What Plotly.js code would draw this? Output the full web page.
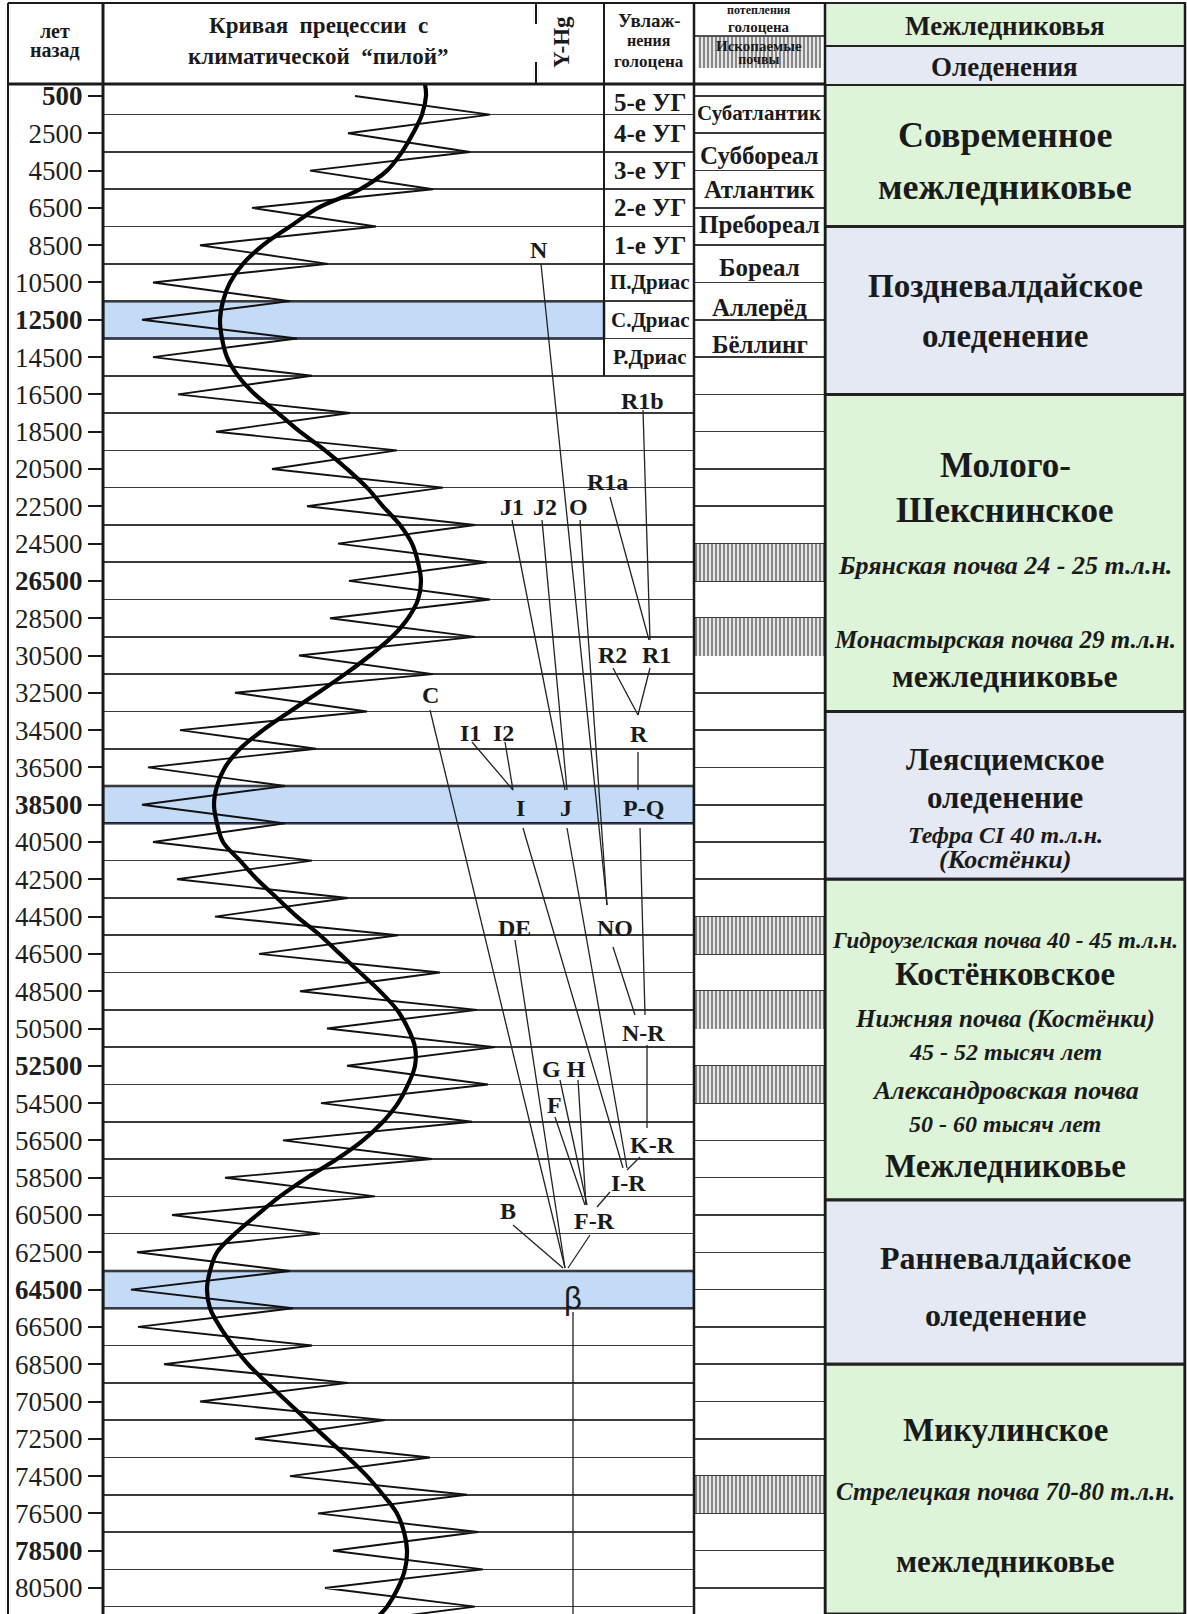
<!DOCTYPE html>
<html><head><meta charset="utf-8">
<script src="https://cdn.plot.ly/plotly-3.0.1.min.js"></script>
<style>html,body{margin:0;padding:0;background:#fff;}#chart{width:1187px;height:1614px;}</style>
</head><body><div id="chart"></div>
<script>
// ---------------- DATA ----------------
const tickYears=[500,2500,4500,6500,8500,10500,12500,14500,16500,18500,20500,22500,24500,26500,28500,30500,32500,34500,36500,38500,40500,42500,44500,46500,48500,50500,52500,54500,56500,58500,60500,62500,64500,66500,68500,70500,72500,74500,76500,78500,80500];
const boldTickYears=[500,12500,26500,38500,52500,64500,78500];
const gridYears=[1500,3500,5500,7500,9500,11500,13500,15500,17500,19500,21500,23500,25500,27500,29500,31500,33500,35500,37500,39500,41500,43500,45500,47500,49500,51500,53500,55500,57500,59500,61500,63500,65500,67500,69500,71500,73500,75500,77500,79500,81500];

// climatic "saw"
const sawYears=[500,1500,2500,3500,4500,5500,6500,7500,8500,9500,10500,11500,12500,13500,14500,15500,16500,17500,18500,19500,20500,21500,22500,23500,24500,25500,26500,27500,28500,29500,30500,31500,32500,33500,34500,35500,36500,37500,38500,39500,40500,41500,42500,43500,44500,45500,46500,47500,48500,49500,50500,51500,52500,53500,54500,55500,56500,57500,58500,59500,60500,61500,62500,63500,64500,65500,66500,67500,68500,69500,70500,71500,72500,73500,74500,75500,76500,77500,78500,79500,80500,81500,82500];
const sawValue=[355,490,348,470,310,433,252,376,200,328,153,290,142,297,153,312,178,350,216,397,272,443,307,475,338,487,349,490,330,475,299,433,235,367,180,316,148,285,142,285,153,312,177,348,215,398,259,440,300,477,327,495,347,488,321,472,283,432,225,375,172,320,137,290,131,293,138,312,164,348,200,385,255,430,290,467,318,478,333,483,325,475,330];

// precession curve
const precYears=[-143,500,1500,2500,3500,4500,5500,6500,7500,8500,9500,10500,11500,12500,13500,14500,15500,16500,17500,18500,19500,20500,21500,22500,23500,24500,25500,26500,27500,28500,29500,30500,31500,32500,33500,34500,35500,36500,37500,38500,39500,40500,41500,42500,43500,44500,45500,46500,47500,48500,49500,50500,51500,52500,53500,54500,55500,56500,57500,58500,59500,60500,61500,62500,63500,64500,65500,66500,67500,68500,69500,70500,71500,72500,73500,74500,75500,76500,77500,78500,79500,80500,81500,82300];
const precValue=[425,426,422,413,402,387,360,318,290,263,243,230,223,220,222,227,238,255,278,300,325,347,367,383,400,412,418,421,418,408,392,370,345,318,290,263,240,225,217,214,217,223,240,257,277,297,320,340,360,380,397,408,415,415,408,398,383,363,337,307,280,257,235,217,210,207,210,220,233,248,267,287,307,327,348,367,383,397,404,407,405,398,387,373];

// cold stadials (blue bands)
const coldStart=[11500,37500,63500];
const coldEnd=[13500,39500,65500];

// fossil soils
const soilStart=[24500,28500,44500,48500,52500,74500];
const soilEnd=[26500,30500,46500,50500,54500,76500];

// Holocene humidity column
const humidLabels=['5-е УГ','4-е УГ','3-е УГ','2-е УГ','1-е УГ','П.Дриас','С.Дриас','Р.Дриас'];
const humidYears=[840,2500,4500,6500,8500,10500,12500,14500];

// Holocene warming periods
const warmLabels=['Субатлантик','Суббореал','Атлантик','Пребореал','Бореал','Аллерёд','Бёллинг'];
const warmYears=[1411,3717,5540,7417,9722,11867,13851];

// Y-Hg haplogroups
const hapNames=['N','R1b','R1a','J1','J2','O','R2','R1','C','I1','I2','R','I','J','P-Q','DE','NO','N-R','G H','F','K-R','I-R','B','F-R'];
const hapX=[539,642,607,512,545,578,612,656,430,470,503,639,520,566,643,514,615,643,564,554,652,628,508,594];
const hapYears=[8757,16854,21197,22538,22538,22538,30473,30473,32618,34656,34656,34710,38677,38677,38677,45111,45111,50741,52671,54602,56746,58785,60286,60822];
const betaX=573, betaYear=65003;

// tree links: from (x, year) to (x, year)
const linkFromX=[541,580,643,610,512,542,613,650,638,472,505,430,523,567,640,613,647,640,515,560,578,555,610,513,590,573];
const linkFromYear=[9508,23235,17336,22001,23235,23235,31170,31170,35674,35138,35138,33422,39749,39749,39749,46130,51385,57390,45755,53261,53261,55245,59267,61036,61572,65701];
const linkToX=[607,607,650,649,565,567,638,638,638,513,513,565,623,627,645,635,647,627,565,587,586,585,597,563,568,573];
const linkToYear=[43878,43878,29669,29669,37712,37712,33690,33690,37712,37712,37712,63342,57980,57980,49776,49776,55835,58087,63342,59964,59964,59964,60071,63342,63342,82000];

// glacial / interglacial stages (right column)
const stageBounds=[-143,7500,16500,33500,42500,59700,68500,81894];
const stageKind=['warm','cold','warm','cold','warm','cold','warm'];
const stageText=['Современное','межледниковье','Поздневалдайское','оледенение','Молого-','Шекснинское','Брянская почва 24 - 25 т.л.н.','Монастырская почва 29 т.л.н.','межледниковье','Леясциемское','оледенение','Тефра CI 40 т.л.н.','(Костёнки)','Гидроузелская почва 40 - 45 т.л.н.','Костёнковское','Нижняя почва (Костёнки)','45 - 52 тысяч лет','Александровская почва','50 - 60 тысяч лет','Межледниковье','Ранневалдайское','оледенение','Микулинское','Стрелецкая почва 70-80 т.л.н.','межледниковье'];
const stageTextYears=[2590,5380,10690,13370,20290,22750,25650,29620,31600,36100,38100,40120,41460,45760,47580,49990,51760,53800,55620,57870,62800,65860,72030,75350,79100];
const stageTextKind=['t','t','t','t','t','t','n','n','t','t','t','n','n','n','t','n','n','n','n','t','t','t','t','n','t'];

// ---------------- LAYOUT ----------------
const W=1187,H=1614;
const yTop=-143, yBot=81894;
const PX=x=>x/W, PY=y=>1-y/H;
const SERIF='Liberation Serif, Times New Roman, serif';
const INK='#1a1a1a';
const GREEN='#def4d8', BLUEGRAY='#e4e9f3', BAND='#c4dbf7';
// font sizes of the right-column lines (same order as stageText)
const stageFontSize=[36,36,33,33,35,35,26,25,32,31,31,24,26,23,33,25,24,26,24,33,32,32,33,25,31];

const yDom=[0,1-84/H];
const traces=[];

const hatch={color:'#d9d9d9',line:{width:0},pattern:{shape:'|',fgcolor:'#707070',bgcolor:'#e6e6e6',size:4,solidity:0.4}};
// soils (hatched bars)
traces.push({type:'bar',orientation:'h',xaxis:'x2',yaxis:'y2',
  y:soilStart.map((s,i)=>(s+soilEnd[i])/2), width:soilStart.map((s,i)=>soilEnd[i]-s),
  x:soilStart.map(()=>1), base:0, marker:hatch, hoverinfo:'skip'});
// header hatch
traces.push({type:'bar',orientation:'v',xaxis:'x4',yaxis:'y4',x:[0.5],y:[1],width:[1],marker:hatch,hoverinfo:'skip'});
// saw
traces.push({type:'scatter',mode:'lines',x:sawValue,y:sawYears,line:{color:'#111',width:1.9},hoverinfo:'skip'});
// precession curve
traces.push({type:'scatter',mode:'lines',x:precValue,y:precYears,line:{color:'#000',width:4.2,shape:'spline',smoothing:1},hoverinfo:'skip'});
// tree
const lx=[],ly=[];
linkFromX.forEach((x,i)=>{lx.push(x,linkToX[i],null);ly.push(linkFromYear[i],linkToYear[i],null);});
traces.push({type:'scatter',mode:'lines',x:lx,y:ly,line:{color:'#222',width:1.3},hoverinfo:'skip'});

const shapes=[];
coldStart.forEach((s,i)=>{
  shapes.push({type:'rect',xref:'x',yref:'y',layer:'below',x0:103,x1:i===0?604:694,y0:s,y1:coldEnd[i],
    fillcolor:BAND,line:{color:'#161b36',width:2.5}});
});
stageKind.forEach((k,i)=>{
  shapes.push({type:'rect',xref:'x3',yref:'y3',layer:'below',x0:0,x1:1,y0:stageBounds[i],y1:stageBounds[i+1],
    fillcolor:k==='warm'?GREEN:BLUEGRAY,line:{color:'#222',width:3}});
});
shapes.push({type:'line',xref:'x',yref:'y',x0:604,x1:604,y0:yTop,y1:15500,line:{color:INK,width:2}});
shapes.push({type:'rect',xref:'paper',yref:'paper',x0:PX(825),x1:PX(1185),y0:PY(3),y1:PY(46),fillcolor:GREEN,line:{color:'#222',width:2}});
shapes.push({type:'rect',xref:'paper',yref:'paper',x0:PX(825),x1:PX(1185),y0:PY(46),y1:PY(85),fillcolor:BLUEGRAY,line:{color:'#222',width:2}});
const L=(x0,y0,x1,y1,w)=>shapes.push({type:'line',xref:'paper',yref:'paper',x0:PX(x0),y0:PY(y0),x1:PX(x1),y1:PY(y1),line:{color:INK,width:w}});
L(8,3,825,3,2); L(8,84,825,84,3);
L(8,3,8,1614,2); L(103,3,103,1614,3);
L(536,3,536,24,2); L(536,62,536,84,2);
L(604,3,604,84,2); L(694,3,694,1614,2.5);
L(825,3,825,1614,2.5); L(1185,3,1185,1614,2.5);
L(694,36,825,36,1.5);

const ann=[];
const A=(o)=>ann.push(Object.assign({showarrow:false,xanchor:'center',yanchor:'middle'},o));
const P=(x,y,text,size,extra)=>A(Object.assign({xref:'paper',yref:'paper',x:PX(x),y:PY(y),text:text,font:{family:SERIF,size:size,color:INK}},extra||{}));
const S=(t,px)=>'<span style="font-size:'+px+'px"><b>'+t+'</b></span>';
// header texts
P(55,40,S('лет',20)+'<br>'+S('назад',20),14.5);
P(318,26,'<b>Кривая  прецессии  с</b>',23);
P(318,57,'<b>климатической  “пилой”</b>',23);
P(562,42,'<b>Y-Hg</b>',23,{textangle:-90});
P(649,21,'<b>Увлаж-</b>',19);
P(649,41,'<b>нения</b>',16);
P(649,61,'<b>голоцена</b>',17);
P(759,10,'<b>потепления</b>',12);
P(759,27,'<b>голоцена</b>',15);
P(759,53,S('Ископаемые',15)+'<br>'+S('почвы',14),10);
P(1005,26,'<b>Межледниковья</b>',27); P(1005,67,'<b>Оледенения</b>',27);
// humidity labels
humidLabels.forEach((t,i)=>A({xref:'x',yref:'y',x:650,y:humidYears[i],text:'<b>'+t+'</b>',font:{family:SERIF,size:i>=5?21:25,color:INK}}));
// warm labels
warmLabels.forEach((t,i)=>A({xref:'x2',yref:'y2',x:0.5,y:warmYears[i],text:'<b>'+t+'</b>',font:{family:SERIF,size:i===0?21:25,color:INK}}));
// haplogroups
hapNames.forEach((t,i)=>A({xref:'x',yref:'y',x:hapX[i],y:hapYears[i],text:'<b>'+t+'</b>',font:{family:SERIF,size:24,color:INK}}));
A({xref:'x',yref:'y',x:betaX,y:betaYear,text:'β',font:{family:'Liberation Sans, Arial, sans-serif',size:31,color:INK}});
// stage texts
stageText.forEach((t,i)=>{
  const title=stageTextKind[i]==='t';
  A({xref:'x3',yref:'y3',x:0.5,y:stageTextYears[i],text:title?'<b>'+t+'</b>':'<b><i>'+t+'</i></b>',
     font:{family:SERIF,size:stageFontSize[i],color:INK}});
});

const tickText=tickYears.map(v=>boldTickYears.includes(v)?'<b>'+v+'</b>':String(v));

const layout={
  width:W,height:H,margin:{l:0,r:0,t:0,b:0},paper_bgcolor:'#fff',plot_bgcolor:'rgba(0,0,0,0)',
  showlegend:false,bargap:0,hovermode:false,
  font:{family:SERIF,color:INK},
  xaxis:{domain:[PX(103),PX(694)],range:[103,694],visible:false,fixedrange:true},
  yaxis:{domain:yDom,range:[yBot,yTop],tickmode:'array',tickvals:tickYears,ticktext:tickText,
    ticks:'outside',ticklen:14,tickwidth:2,tickcolor:INK,showgrid:false,zeroline:false,showline:false,
    tickfont:{family:SERIF,size:27,color:'#1e1e1e'},fixedrange:true,
    minor:{tickmode:'array',tickvals:gridYears,showgrid:true,gridcolor:'#3a3a3a',gridwidth:1.6,ticks:''}},
  xaxis2:{domain:[PX(694),PX(825)],range:[0,1],visible:false,anchor:'y2',fixedrange:true},
  yaxis2:{domain:yDom,range:[yBot,yTop],anchor:'x2',tickmode:'array',tickvals:tickYears,showticklabels:false,ticks:'',
    showgrid:true,gridcolor:'#3a3a3a',gridwidth:1.6,zeroline:false,showline:false,fixedrange:true},
  xaxis3:{domain:[PX(825),PX(1185)],range:[0,1],visible:false,anchor:'y3',fixedrange:true},
  yaxis3:{domain:yDom,range:[yBot,yTop],anchor:'x3',visible:false,fixedrange:true},
  xaxis4:{domain:[PX(698),PX(821)],range:[0,1],visible:false,anchor:'y4',fixedrange:true},
  yaxis4:{domain:[PY(68),PY(37)],range:[0,1],visible:false,anchor:'x4',fixedrange:true},
  shapes:shapes,annotations:ann
};
Plotly.newPlot('chart',traces,layout,{displayModeBar:false,staticPlot:true});
</script></body></html>
